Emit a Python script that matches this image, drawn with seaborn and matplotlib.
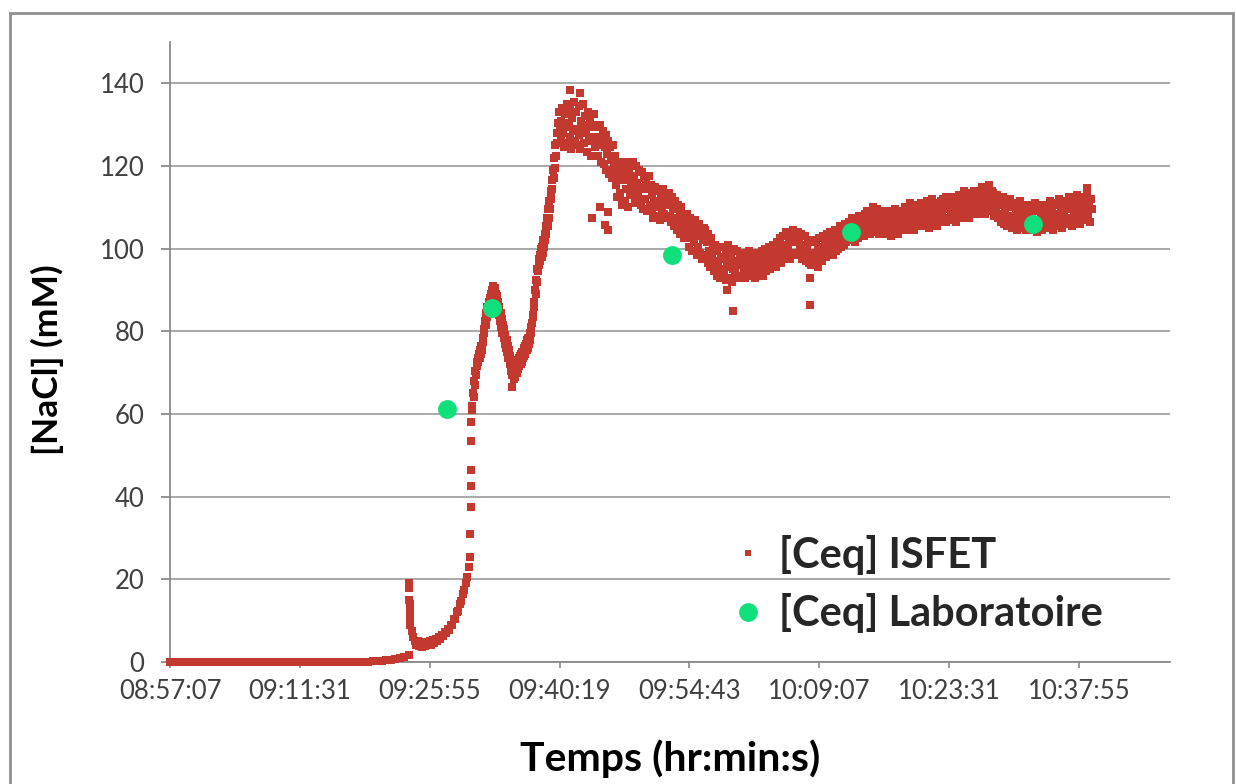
import matplotlib
matplotlib.use("Agg")
import matplotlib.pyplot as plt
from matplotlib.lines import Line2D
from matplotlib.patches import Rectangle
import pandas as pd
import seaborn as sns

# ---------------------------------------------------------------------------
# ISFET readings of [NaCl] (mM)
# ---------------------------------------------------------------------------
# baseline phase, one reading every 30 s
base_start = "08:57:07"
base_step_s = 30
base_nacl = [
    0.0, 0.0, 0.0, 0.0, 0.0, 0.0, 0.0, 0.0, 0.0, 0.0, 0.0,
    0.0, 0.0, 0.0, 0.0, 0.0, 0.0, 0.0, 0.0, 0.0, 0.0, 0.0,
    0.0, 0.0, 0.0, 0.0, 0.0, 0.0, 0.0, 0.0, 0.0, 0.0, 0.0,
    0.0, 0.0, 0.0, 0.0, 0.0, 0.0, 0.0, 0.0, 0.0, 0.0, 0.0,
    0.1, 0.15, 0.25, 0.35, 0.45, 0.55, 0.7, 0.9, 1.2, 1.8,
]

# dip after the first injection, one reading every 10 s
dip_start = "09:23:45"
dip_step_s = 10
dip_nacl = [
    9.0, 7.5, 6.0, 5.0, 4.2, 5.0, 3.8, 4.6, 3.6, 4.8,
    3.9, 4.5, 4.0, 5.0, 4.2, 5.3, 4.6, 5.6, 5.0, 6.0,
    5.6, 6.6, 6.2, 7.2, 7.0, 8.0, 7.8, 9.0, 9.0, 10.3,
    10.5, 12.0, 12.3, 14.0, 14.8, 16.5, 17.5, 19.0, 20.5, 23.0,
    25.5,
]

# fast filling phase, one reading every 4 s
rise_start = "09:30:35"
rise_step_s = 4
rise_nacl = [
    62.0, 61.0, 65.0, 64.0, 68.0, 67.0, 70.5, 69.5, 72.5, 71.5,
    73.5, 72.5, 74.5, 73.5, 75.5, 74.5, 76.5, 75.5, 78.5, 77.5,
    80.5, 79.5, 82.5, 81.5, 84.5, 83.5, 86.0, 85.0, 87.0, 86.0,
    88.0, 87.0, 89.0, 88.0, 90.0, 89.0, 91.0, 90.0, 90.5, 89.0,
    89.0, 86.5, 88.5, 85.0, 87.0, 84.0, 86.0, 82.5, 84.5, 81.0,
    83.0, 79.5, 81.5, 78.5, 80.5, 77.0, 79.0, 76.0, 78.0, 75.0,
    76.5, 73.5, 75.5, 72.0, 74.0, 70.5, 72.5, 69.5, 71.5,
    70.0, 72.5, 69.0, 71.5, 70.5, 73.0, 70.0, 72.0, 71.0, 73.5, 71.5,
    74.0, 72.0, 74.5, 72.5, 75.0, 73.5, 76.0, 74.0, 76.5, 74.5,
    77.0, 75.5, 78.0, 76.0, 78.5, 77.0, 79.5, 78.0, 81.0, 79.5, 82.0,
    84.0, 83.5, 87.0, 86.0, 90.0, 89.0, 92.5, 92.0, 95.0, 94.5,
    97.5, 96.0, 98.5, 97.0, 100.0, 98.0, 100.5, 99.0, 102.0, 100.5,
    103.5, 102.0, 105.5, 103.5, 107.5, 105.5, 109.5, 107.5, 111.5, 109.5,
    114.0, 112.0, 116.5, 114.5, 119.0, 117.0, 122.0, 119.5, 125.0, 122.5,
    128.0, 125.5, 130.5, 128.0, 133.0, 130.0,
]

# stabilisation phase, one reading every 6 s
plateau_start = "09:40:25"
plateau_step_s = 6
plateau_nacl = [
    131.0, 126.5, 134.0, 128.0, 124.5, 132.5, 129.5, 135.0, 125.5, 130.5,
    133.5, 127.0, 124.0, 131.5, 128.5, 135.5, 126.0, 133.0, 129.0, 125.0,
    134.5, 127.5, 124.0, 131.0, 129.0, 135.0, 125.5, 132.0, 128.0, 123.5,
    133.0, 130.0, 126.0, 131.5, 122.5, 129.5, 127.0, 132.5, 124.5, 130.0,
    125.0, 129.5, 122.5, 127.0, 130.0, 121.0, 126.0, 128.5, 120.5, 124.5,
    127.5, 119.0, 123.0, 126.0, 118.0, 124.5, 121.5, 117.0, 125.0, 120.0,
    122.5, 115.5, 119.0, 112.5, 121.0, 117.0, 113.5, 120.0, 110.5, 116.5,
    118.5, 111.5, 121.0, 114.5, 117.5, 110.0, 119.5, 113.0, 116.0, 120.5,
    121.0, 114.0, 117.5, 111.0, 120.0, 116.0, 112.5, 119.0, 114.5, 110.5,
    118.5, 115.0, 109.5, 117.0, 112.0, 116.0, 109.0, 114.5, 117.5, 110.5,
    115.5, 109.0, 113.0, 107.5, 111.5, 115.0, 110.0, 108.0, 114.0, 111.0,
    107.0, 113.5, 109.5, 112.0, 114.5, 108.5, 110.5, 113.0, 107.5, 111.5,
    113.5, 108.0, 111.0, 106.5, 112.5, 109.5, 105.5, 111.5, 107.5, 104.5,
    110.5, 106.0, 109.0, 103.5, 110.0, 105.0, 108.0, 102.5, 107.0, 104.0,
    108.5, 102.5, 106.0, 100.5, 107.5, 104.0, 99.5, 105.5, 101.5, 107.0,
    103.0, 98.5, 104.5, 100.5, 106.0, 99.0, 103.5, 97.5, 102.0, 105.0,
    104.5, 98.5, 101.5, 96.5, 103.5, 99.5, 95.5, 102.5, 97.5, 100.5,
    94.5, 101.0, 97.0, 93.5, 99.5, 96.0, 100.5, 93.0, 98.0, 95.0,
    100.5, 94.0, 97.5, 92.5, 99.0, 95.5, 101.0, 93.0, 96.5, 98.5,
    92.0, 95.0, 100.0, 94.5, 97.0, 93.5, 99.5, 96.0, 93.0, 98.0,
    97.5, 93.5, 99.0, 95.0, 96.5, 93.0, 98.5, 94.5, 97.0, 99.5,
    94.0, 96.0, 93.5, 98.0, 95.5, 97.5, 93.0, 99.0, 94.5, 96.5,
    98.5, 94.0, 96.5, 99.5, 93.5, 97.5, 95.0, 100.0, 94.5, 98.0,
    96.0, 100.5, 95.0, 97.0, 99.0, 95.5, 101.0, 96.5, 98.5, 95.5,
    101.5, 97.0, 99.5, 102.5, 96.5, 100.5, 98.0, 103.0, 97.5, 101.0,
    104.0, 98.5, 100.0, 102.5, 97.5, 103.5, 99.0, 101.5, 104.5, 98.5,
    103.5, 99.0, 101.5, 104.0, 98.5, 102.0, 100.0, 103.5, 97.5, 101.0,
    99.5, 103.0, 97.0, 100.5, 102.0, 96.5, 99.0, 101.5, 96.0, 98.5,
    101.5, 96.0, 99.0, 102.0, 97.5, 100.5, 95.5, 102.5, 98.5, 100.0,
    97.0, 103.0, 99.0, 101.5, 98.0, 103.5, 100.0, 102.0, 98.5, 104.0,
    100.5, 103.5, 98.5, 102.0, 104.5, 99.5, 101.5, 104.0, 100.0, 103.0,
    105.5, 100.5, 102.5, 105.0, 101.0, 103.5, 106.0, 101.5, 104.5, 102.5,
    106.5, 102.0, 104.5, 107.5, 103.0, 105.5, 101.5, 107.0, 104.0, 106.0,
    102.5, 108.0, 105.0, 103.5, 107.5, 104.5, 106.5, 103.0, 108.5, 105.5,
    109.0, 104.5, 107.0, 103.5, 108.5, 105.5, 110.0, 106.0, 104.0, 108.0,
    105.0, 109.5, 106.5, 103.5, 107.5, 104.5, 109.0, 106.0, 108.5, 105.0,
    107.5, 103.5, 106.0, 109.0, 104.5, 107.0, 103.0, 108.5, 105.5, 106.5,
    104.0, 109.5, 105.0, 107.5, 103.5, 108.0, 106.0, 104.5, 109.0, 106.5,
    108.0, 105.0, 110.0, 106.5, 104.5, 109.0, 107.0, 111.0, 105.5, 108.5,
    106.0, 110.5, 104.5, 107.5, 109.5, 105.5, 108.0, 110.5, 106.5, 109.0,
    111.0, 106.0, 108.5, 105.5, 110.0, 107.5, 111.5, 106.5, 109.0, 105.0,
    110.5, 108.0, 112.0, 106.5, 109.5, 107.0, 111.0, 105.5, 108.5, 110.0,
    109.0, 106.5, 111.5, 108.0, 112.0, 107.0, 110.0, 112.5, 106.5, 109.5,
    111.0, 107.5, 110.5, 108.5, 112.5, 107.0, 109.5, 111.5, 106.5, 110.0,
    111.5, 108.0, 113.0, 109.5, 107.5, 112.0, 110.0, 114.0, 108.5, 111.0,
    113.5, 109.0, 112.5, 107.5, 110.5, 113.0, 108.5, 111.5, 114.0, 109.5,
    112.5, 109.0, 114.0, 110.5, 108.5, 113.5, 111.0, 115.0, 109.5, 112.0,
    114.5, 108.5, 111.5, 113.0, 110.0, 115.5, 109.0, 112.5, 114.0, 110.5,
    113.5, 108.0, 111.5, 109.5, 113.0, 107.5, 110.5, 112.5, 106.5, 111.0,
    108.5, 112.5, 106.0, 109.5, 111.5, 105.5, 110.0, 108.0, 112.0, 106.5,
    110.5, 105.0, 108.0, 111.0, 106.5, 109.5, 104.5, 110.0, 107.0, 105.5,
    111.5, 108.5, 105.0, 109.0, 106.0, 110.5, 104.5, 107.5, 109.5, 106.0,
    108.5, 104.5, 110.5, 106.0, 109.0, 105.0, 111.0, 107.0, 104.0, 109.5,
    106.5, 110.0, 105.5, 108.0, 104.5, 110.5, 107.5, 105.0, 109.0, 106.5,
    110.0, 105.0, 108.0, 111.5, 106.0, 109.0, 104.5, 111.0, 107.5, 105.5,
    110.5, 108.5, 106.0, 112.0, 107.0, 109.5, 105.0, 110.0, 108.0, 111.5,
    107.0, 111.0, 106.0, 109.5, 112.5, 107.5, 110.0, 105.5, 112.0, 108.5,
    106.5, 111.5, 109.0, 113.0, 107.0, 110.5, 106.0, 112.0, 108.0, 111.0,
    109.0, 112.5, 107.0, 110.5, 113.5, 108.0, 111.0, 106.5, 112.0, 109.5,
]

# isolated readings logged between the regular samples
spike_times = ["09:23:38", "09:23:39", "09:23:40", "09:23:41",
               "09:23:42", "09:23:43", "09:23:44"]
spike_nacl = [19.0, 18.0, 15.0, 14.0, 13.0, 12.0, 10.5]

jump_times = ["09:30:26", "09:30:27", "09:30:28", "09:30:29",
              "09:30:31", "09:30:32"]
jump_nacl = [31.0, 37.5, 42.5, 46.5, 53.5, 58.0]

stray_times = ["09:35:02", "09:35:16", "09:41:28", "09:42:35", "09:43:55",
               "09:44:48", "09:45:21", "09:45:41", "09:45:43", "09:58:53",
               "09:59:33", "10:08:05", "10:08:07", "10:38:48"]
stray_nacl = [66.5, 68.5, 138.3, 137.6, 107.4, 110.0, 105.7, 108.8, 104.5,
              90.0, 85.0, 93.0, 86.3, 114.6]

# laboratory reference measurements
lab_times = ["09:27:50", "09:32:50", "09:52:45", "10:12:40", "10:32:50"]
lab_nacl = [61.2, 85.6, 98.4, 104.0, 105.9]

# axes
x_tick_labels = ["08:57:07", "09:11:31", "09:25:55", "09:40:19",
                 "09:54:43", "10:09:07", "10:23:31", "10:37:55"]
x_end = "10:48:00"
y_ticks = [0, 20, 40, 60, 80, 100, 120, 140]
y_max = 150

series_names = ["[Ceq] ISFET", "[Ceq] Laboratoire"]
RED = "#c4392f"
GREEN = "#10e07c"
GRID = "#a9a9a9"
AXIS = "#8a8a8a"
TICK_TEXT = "#404040"


def clock_to_day(s):
    h, m, sec = (int(p) for p in s.split(":"))
    return (h * 3600 + m * 60 + sec) / 86400.0


def regular(start, step_s, values):
    t0 = clock_to_day(start)
    return [t0 + i * step_s / 86400.0 for i in range(len(values))], list(values)


times, vals = [], []
for start, step, values in [(base_start, base_step_s, base_nacl),
                            (dip_start, dip_step_s, dip_nacl),
                            (rise_start, rise_step_s, rise_nacl),
                            (plateau_start, plateau_step_s, plateau_nacl)]:
    t, v = regular(start, step, values)
    times += t
    vals += v
for tt, vv in [(spike_times, spike_nacl), (jump_times, jump_nacl),
               (stray_times, stray_nacl)]:
    times += [clock_to_day(s) for s in tt]
    vals += list(vv)

isfet = pd.DataFrame({"day": times, "nacl": vals})
lab = pd.DataFrame({"day": [clock_to_day(s) for s in lab_times], "nacl": lab_nacl})

sns.set_theme(style="white")
plt.rcParams["font.family"] = ["Lato", "DejaVu Sans"]

W, H = 1236, 784
fig = plt.figure(figsize=(W / 100, H / 100), dpi=100)
fig.patch.set_facecolor("white")
ax = fig.add_axes([170 / W, 1 - 662 / H, 1000 / W, 620 / H])

sns.scatterplot(data=isfet, x="day", y="nacl", marker="s", s=31, color=RED,
                linewidth=0, ax=ax, legend=False, zorder=3, clip_on=False)
sns.scatterplot(data=lab, x="day", y="nacl", marker="o", s=185, color=GREEN,
                linewidth=0, ax=ax, legend=False, zorder=4)

x_ticks = [clock_to_day(s) for s in x_tick_labels]
ax.set_xlim(x_ticks[0], clock_to_day(x_end))
ax.set_ylim(0, y_max)
ax.set_xticks(x_ticks)
ax.set_xticklabels(x_tick_labels)
ax.set_yticks(y_ticks)
ax.set_yticklabels([str(v) for v in y_ticks])

ax.set_axisbelow(True)
ax.yaxis.grid(True, color=GRID, linewidth=1.4)
ax.xaxis.grid(False)
for side in ["top", "right"]:
    ax.spines[side].set_visible(False)
for side in ["left", "bottom"]:
    ax.spines[side].set_color(AXIS)
    ax.spines[side].set_linewidth(1.3)

ax.tick_params(axis="y", direction="out", length=6.5, width=1.3, color=AXIS,
               pad=12, labelsize=18.5, labelcolor=TICK_TEXT, left=True)
ax.tick_params(axis="x", direction="out", length=4.5, width=1.2, color=AXIS,
               pad=8, labelsize=18.5, labelcolor=TICK_TEXT, bottom=True)

ax.set_xlabel("Temps (hr:min:s)", fontsize=29.5, fontweight="bold", color="black")
ax.xaxis.set_label_coords(0.5, (662 - 759) / 620)
ax.xaxis.label.set_va("center")
ax.set_ylabel("[NaCl] (mM)", fontsize=25.5, fontweight="bold", color="black")
ax.yaxis.set_label_coords((47 - 170) / 1000, 0.5 + (352 - 360) / 620)
ax.yaxis.label.set_va("center")

handles = [
    Line2D([], [], linestyle="none", marker="s", markersize=4.5,
           markerfacecolor=RED, markeredgewidth=0),
    Line2D([], [], linestyle="none", marker="o", markersize=13.5,
           markerfacecolor=GREEN, markeredgewidth=0),
]
ax.legend(handles, series_names, loc="center left",
          bbox_to_anchor=(730 / W, 1 - 584 / H), bbox_transform=fig.transFigure,
          frameon=False, prop={"size": 30, "weight": "bold"},
          handlelength=0.86, handletextpad=0.32, labelspacing=0.45,
          borderpad=0, borderaxespad=0)

# chart-area frame
fig.patches.append(Rectangle((10 / W, -0.05), (1233 - 10) / W, 1.05 - 13 / H,
                             transform=fig.transFigure, fill=False,
                             edgecolor="#8f8f8f", linewidth=2.0, zorder=0))

fig.savefig("out.png", dpi=100, facecolor="white")
